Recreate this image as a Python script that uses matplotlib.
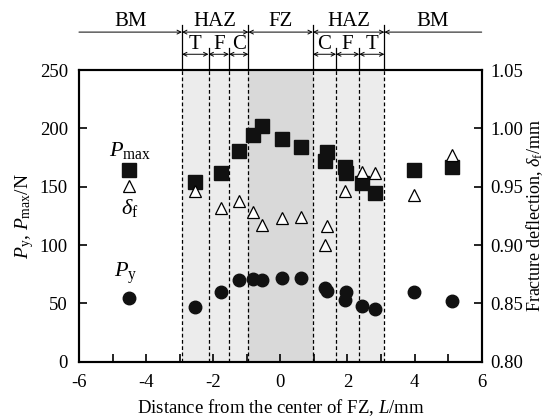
import numpy as np
from matplotlib import pyplot as plt

plt.rcParams['font.family'] = 'Liberation Serif'
plt.rcParams['mathtext.fontset'] = 'custom'
plt.rcParams['mathtext.rm'] = 'Liberation Serif'
plt.rcParams['mathtext.it'] = 'Liberation Serif:italic'
plt.rcParams['axes.unicode_minus'] = False

# distance from FZ centre (mm)
dist = [-4.5, -2.55, -1.76, -1.23, -0.80, -0.55, 0.04, 0.63,
        1.32, 1.38, 1.92, 1.95, 2.42, 2.82, 3.98, 5.11]
p_max = [164, 154, 162, 181, 194, 202, 191, 184,
         172, 180, 167, 162, 153, 145, 164, 167]
p_y = [55, 47, 60, 70, 71, 70, 71.5, 72,
       63, 60.5, 53, 59.5, 48, 45, 60, 52]
delta_f = [0.951, 0.946, 0.932, 0.938, 0.928, 0.917, 0.923, 0.924,
           0.900, 0.916, 0.946, np.nan, 0.963, 0.962, 0.943, 0.977]

# zone boundaries (mm)
bounds = [-2.93, -2.14, -1.53, -0.95, 0.97, 1.66, 2.35, 3.10]
zones = ['BM', 'HAZ', 'FZ', 'HAZ', 'BM']
subzones = ['T', 'F', 'C', 'C', 'F', 'T']

fig = plt.figure(figsize=(5.52, 4.2), dpi=100)
ax = fig.add_axes([0.143, 0.1388, 0.7297, 0.6945])
ax2 = ax.twinx()

# shaded zones
ax.axvspan(bounds[0], bounds[3], color='#ececec', lw=0, zorder=0)
ax.axvspan(bounds[4], bounds[7], color='#ececec', lw=0, zorder=0)
ax.axvspan(bounds[3], bounds[4], color='#d9d9d9', lw=0, zorder=0)
for b in bounds:
    ax.axvline(b, color='black', ls=(0, (3, 2)), lw=0.9, zorder=1)

ax.plot(dist, p_max, 's', color='#111111', ms=9.5, zorder=3)
ax.plot(dist, p_y, 'o', color='#111111', ms=9, zorder=3)
ax2.plot(dist, delta_f, '^', mfc='white', mec='black', mew=0.9, ms=9, zorder=3)

ax.set_xlim(-6, 6)
ax.set_ylim(0, 250)
ax2.set_ylim(0.80, 1.05)
ax.set_xticks(np.arange(-6, 7, 2))
ax.set_xticks(np.arange(-6, 7, 1), minor=True)
ax.set_yticks(np.arange(0, 251, 50))
ax2.set_yticks(np.arange(0.80, 1.051, 0.05))
ax2.set_yticklabels(['%.2f' % v for v in np.arange(0.80, 1.051, 0.05)])

for a in (ax, ax2):
    a.tick_params(which='both', direction='in', length=6, width=1.2, labelsize=13.5)
    for s in a.spines.values():
        s.set_linewidth(1.5)
ax.tick_params(axis='x', pad=9)
ax.tick_params(axis='y', pad=8)
ax2.tick_params(axis='y', pad=6)

ax.set_xlabel('Distance from the center of FZ, $L$/mm', fontsize=13.5, labelpad=4)
ax.set_ylabel('$P_\\mathrm{y}$, $P_\\mathrm{max}$/N', fontsize=14, labelpad=3)
ax2.set_ylabel('Fracture deflection, $\\delta_\\mathrm{f}$/mm', fontsize=13, labelpad=1)

# series labels
ax.text(-4.48, 181, '$P_\\mathrm{max}$', fontsize=16, ha='center', va='center')
ax.text(-4.48, 132, '$\\delta_\\mathrm{f}$', fontsize=16, ha='center', va='center')
ax.text(-4.6, 76, '$P_\\mathrm{y}$', fontsize=16, ha='center', va='center')

# zone annotations above the axes
aprops = dict(arrowstyle='<->', lw=0.7, color='black', shrinkA=0, shrinkB=0,
              mutation_scale=7)
main = [bounds[0], bounds[3], bounds[4], bounds[7]]
for b in main:
    ax.plot([b, b], [250, 289], color='black', lw=0.9, clip_on=False)
for b in [bounds[1], bounds[2], bounds[5], bounds[6]]:
    ax.plot([b, b], [250, 269], color='black', lw=0.9, clip_on=False)

edges = [-6] + main + [6]
for i, z in enumerate(zones):
    x0, x1 = edges[i], edges[i + 1]
    if i == 0:
        ax.annotate('', xy=(x1, 282.5), xytext=(x0, 282.5), annotation_clip=False,
                    arrowprops=dict(aprops, arrowstyle='->'))
    elif i == len(zones) - 1:
        ax.annotate('', xy=(x0, 282.5), xytext=(x1, 282.5), annotation_clip=False,
                    arrowprops=dict(aprops, arrowstyle='->'))
    else:
        ax.annotate('', xy=(x1, 282.5), xytext=(x0, 282.5), annotation_clip=False,
                    arrowprops=aprops)
    ax.text((x0 + x1) / 2, 292, z, fontsize=15, ha='center', va='center', clip_on=False)

sub_edges = [bounds[0:4], bounds[4:8]]
k = 0
for seg in sub_edges:
    for j in range(3):
        x0, x1 = seg[j], seg[j + 1]
        ax.annotate('', xy=(x1, 263.5), xytext=(x0, 263.5), annotation_clip=False,
                    arrowprops=aprops)
        ax.text((x0 + x1) / 2, 271.5, subzones[k], fontsize=15, ha='center', va='center')
        k += 1

plt.savefig('out.png', dpi=100)
